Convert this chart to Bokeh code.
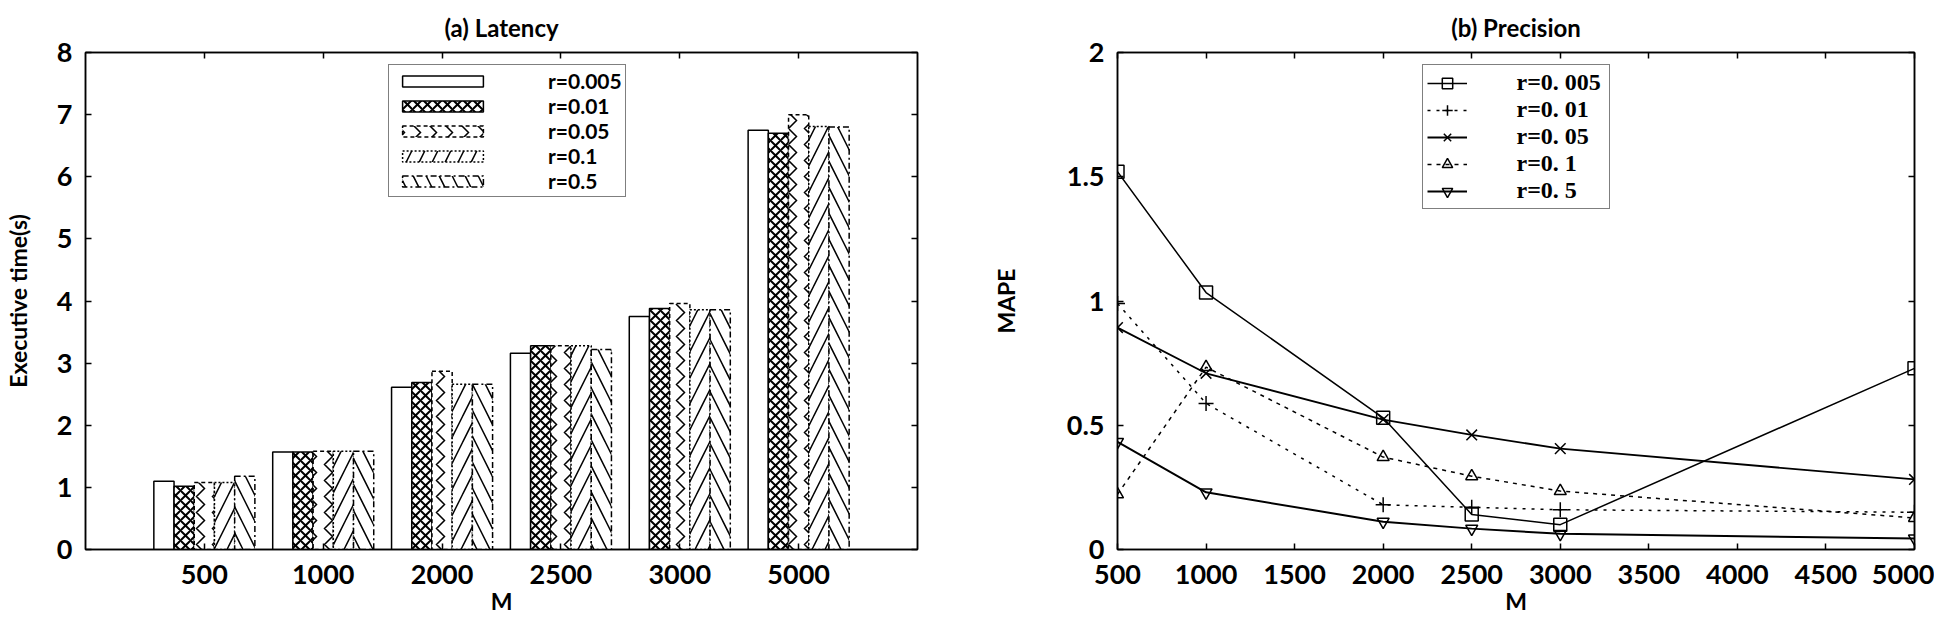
from bokeh.plotting import figure
from bokeh.models import (FactorRange, Range1d, LinearAxis, CategoricalAxis,
                          SingleIntervalTicker, Legend, LegendItem, ColumnDataSource,
                          NumeralTickFormatter)
from bokeh.transform import dodge
from bokeh.layouts import row
from bokeh.embed import file_html
from bokeh.resources import INLINE

# ---------------- data ----------------
M_CATS = ["500", "1000", "2000", "2500", "3000", "5000"]
M_VALUES = [500, 1000, 2000, 2500, 3000, 5000]
BAR_LABELS = ["r=0.005", "r=0.01", "r=0.05", "r=0.1", "r=0.5"]
LINE_LABELS = ["r=0. 005", "r=0. 01", "r=0. 05", "r=0. 1", "r=0. 5"]

LAT_R0005 = [1.10, 1.57, 2.61, 3.16, 3.75, 6.75]
LAT_R001 = [1.02, 1.57, 2.69, 3.28, 3.88, 6.70]
LAT_R005 = [1.08, 1.58, 2.87, 3.28, 3.96, 7.00]
LAT_R01 = [1.08, 1.58, 2.66, 3.28, 3.86, 6.81]
LAT_R05 = [1.18, 1.58, 2.66, 3.22, 3.86, 6.80]

MAPE_R0005 = [1.52, 1.034, 0.53, 0.141, 0.10, 0.729]
MAPE_R001 = [0.99, 0.588, 0.18, 0.17, 0.16, 0.15]
MAPE_R005 = [0.893, 0.709, 0.523, 0.461, 0.406, 0.282]
MAPE_R01 = [0.222, 0.734, 0.372, 0.295, 0.235, 0.127]
MAPE_R05 = [0.433, 0.23, 0.112, 0.084, 0.063, 0.044]

SANS = "Lato"
SERIF = "Liberation Serif"
TICK_FS = "27px"
LABEL_FS = "23px"
TITLE_FS = "24px"


def style_main_axes(p):
    for ax in p.axis:
        ax.major_label_text_font = SANS
        ax.major_label_text_font_style = "bold"
        ax.major_label_text_font_size = TICK_FS
        ax.major_label_text_color = "black"
        ax.axis_label_text_font = SANS
        ax.axis_label_text_font_style = "bold"
        ax.axis_label_text_font_size = LABEL_FS
        ax.axis_label_text_color = "black"
        ax.major_tick_in = 6
        ax.major_tick_out = 0
        ax.minor_tick_in = 0
        ax.minor_tick_out = 0
        ax.axis_line_width = 1.5
        ax.major_tick_line_width = 1.5
        ax.axis_line_color = "black"
        ax.major_tick_line_color = "black"


def hidden_axis(ax):
    ax.major_label_text_color = None
    ax.major_label_text_font_size = "1px"
    ax.major_label_standoff = 0
    ax.major_tick_in = 6
    ax.major_tick_out = 0
    ax.minor_tick_in = 0
    ax.minor_tick_out = 0
    ax.axis_line_width = 1.5
    ax.major_tick_line_width = 1.5
    return ax


def style_title(p, text):
    p.title.text = text
    p.title.align = "center"
    p.title.text_font = SANS
    p.title.text_font_style = "bold"
    p.title.text_font_size = TITLE_FS
    p.title.text_color = "black"
    p.title.standoff = 21


# ---------------- (a) Latency ----------------
src = ColumnDataSource(dict(M=M_CATS, a=LAT_R0005, b=LAT_R001, c=LAT_R005,
                            d=LAT_R01, e=LAT_R05))

p1 = figure(x_range=FactorRange(factors=M_CATS, range_padding=0.5,
                                range_padding_units="absolute"),
            y_range=Range1d(0, 8),
            frame_width=832, frame_height=497,
            min_border_left=84, min_border_right=52,
            min_border_top=45, min_border_bottom=75,
            output_backend="svg", toolbar_location=None, tools="")
style_title(p1, "(a) Latency")
p1.grid.visible = False
p1.outline_line_color = "black"
p1.outline_line_width = 1.5
p1.yaxis.ticker = SingleIntervalTicker(interval=1)
p1.xaxis.axis_label = "M"
p1.yaxis.axis_label = "Executive time(s)"

bar_w = 0.17
offsets = [-2 * bar_w, -bar_w, 0, bar_w, 2 * bar_w]
cols = ["a", "b", "c", "d", "e"]
hatches = [None, "diagonal_cross", "vertical_wave", "right_diagonal_line", "left_diagonal_line"]
hscales = [12, 10, 16, 26, 26]
hweights = [1, 2, 1.5, 1.5, 1.5]
dashes = ["solid", "solid", "4 3", "2 2", "6 3 2 3"]
bar_items = []
for i in range(5):
    kw = dict(hatch_pattern=hatches[i], hatch_color="black",
              hatch_scale=hscales[i], hatch_weight=hweights[i]) if hatches[i] else {}
    r = p1.vbar(x=dodge("M", offsets[i], range=p1.x_range), top=cols[i],
                width=bar_w, source=src, fill_color="white",
                line_color="black", line_width=1.5, line_dash=dashes[i], **kw)
    bar_items.append(LegendItem(label=BAR_LABELS[i], renderers=[r]))

style_main_axes(p1)
p1.xaxis.major_label_standoff = 15
p1.xaxis.axis_label_standoff = 0
p1.yaxis.major_label_standoff = 13
p1.yaxis.axis_label_standoff = 22

p1.add_layout(hidden_axis(LinearAxis(ticker=SingleIntervalTicker(interval=1))), "right")
p1.add_layout(hidden_axis(CategoricalAxis()), "above")

leg1 = Legend(items=bar_items, location=(303, 352),
              glyph_width=101, glyph_height=14, label_standoff=55, label_width=72,
              padding=3, spacing=0,
              border_line_color="black", border_line_width=1.5,
              background_fill_color="white", background_fill_alpha=1,
              label_text_font=SANS, label_text_font_style="bold",
              label_text_font_size="21px", label_text_color="black")
p1.add_layout(leg1, "center")

# ---------------- (b) Precision ----------------
p2 = figure(x_range=Range1d(500, 5000), y_range=Range1d(0, 2),
            frame_width=797, frame_height=497,
            min_border_left=148, min_border_right=20,
            min_border_top=45, min_border_bottom=75,
            output_backend="svg", toolbar_location=None, tools="")
style_title(p2, "(b) Precision")
p2.grid.visible = False
p2.outline_line_color = "black"
p2.outline_line_width = 1.5
p2.xaxis.ticker = SingleIntervalTicker(interval=500)
p2.yaxis.ticker = SingleIntervalTicker(interval=0.5)
p2.yaxis.formatter = NumeralTickFormatter(format="0.[0]")
p2.xaxis.axis_label = "M"
p2.yaxis.axis_label = "MAPE"

series = [MAPE_R0005, MAPE_R001, MAPE_R005, MAPE_R01, MAPE_R05]
markers = ["square", "cross", "x", "triangle", "inverted_triangle"]
msizes = [13, 15, 15, 12, 12]
ldash = ["solid", "3 6", "solid", "4 5", "solid"]
lwidth = [1.5, 1.5, 1.8, 1.5, 2.0]
line_items = []
for i in range(5):
    rl = p2.line(M_VALUES, series[i], line_color="black", line_width=lwidth[i],
                 line_dash=ldash[i])
    rs = p2.scatter(M_VALUES, series[i], marker=markers[i], size=msizes[i],
                    fill_color=None, line_color="black", line_width=1.5)
    line_items.append(LegendItem(label=LINE_LABELS[i], renderers=[rl, rs]))

style_main_axes(p2)
p2.xaxis.major_label_standoff = 15
p2.xaxis.axis_label_standoff = 0
p2.yaxis.major_label_standoff = 13
p2.yaxis.axis_label_standoff = 44

p2.add_layout(hidden_axis(LinearAxis(ticker=SingleIntervalTicker(interval=0.5))), "right")
p2.add_layout(hidden_axis(LinearAxis(ticker=SingleIntervalTicker(interval=500))), "above")

leg2 = Legend(items=line_items, location="top_center", margin=12,
              glyph_width=40, glyph_height=26, label_standoff=50, label_width=88,
              padding=4, spacing=0,
              border_line_color="black", border_line_width=1.5,
              background_fill_color="white", background_fill_alpha=1,
              label_text_font=SERIF, label_text_font_style="bold",
              label_text_font_size="24px", label_text_color="black")
p2.add_layout(leg2, "center")

layout = row(p1, p2)
open("out.html", "w").write(file_html(layout, INLINE))
